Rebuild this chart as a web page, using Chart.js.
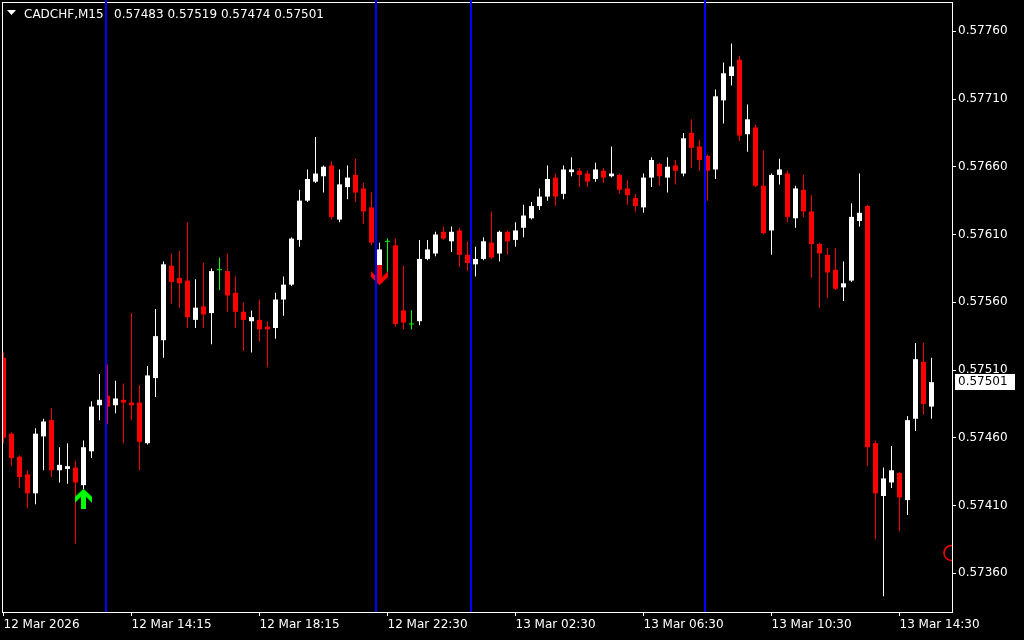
<!DOCTYPE html>
<html>
<head>
<meta charset="utf-8">
<script src="https://cdn.jsdelivr.net/npm/chart.js@4.4.0/dist/chart.umd.min.js"></script>
<style>
html, body { margin: 0; padding: 0; background: #000; overflow: hidden; }
#wrap { width: 1024px; height: 640px; }
</style>
</head>
<body>
<div id="wrap"><canvas id="myChart"></canvas></div>
<script>
// CADCHF M15, one entry per bar (index 0 = leftmost)
const opens = [0.57519,0.57463,0.57446,0.57433,0.57419,0.57461,0.57473,0.57436,0.57437,0.57438,
  0.57425,0.57450,0.57484,0.57491,0.57484,0.57488,0.57486,0.57486,0.57456,0.57504,
  0.57532,0.57587,0.57578,0.57576,0.57547,0.57557,0.57552,0.57584,0.57583,0.57567,
  0.57553,0.57546,0.57547,0.57542,0.57541,0.57562,0.57573,0.57606,0.57635,0.57649,
  0.57653,0.57661,0.57621,0.57645,0.57654,0.57644,0.57630,0.57582,0.57605,0.57602,
  0.57554,0.57544,0.57546,0.57592,0.57596,0.57612,0.57605,0.57613,0.57595,0.57588,
  0.57592,0.57604,0.57596,0.57612,0.57606,0.57615,0.57622,0.57631,0.57638,0.57652,
  0.57640,0.57656,0.57657,0.57655,0.57651,0.57657,0.57653,0.57654,0.57644,0.57637,
  0.57630,0.57652,0.57662,0.57652,0.57661,0.57655,0.57685,0.57675,0.57668,0.57658,
  0.57709,0.57727,0.57739,0.57684,0.57689,0.57646,0.57613,0.57654,0.57655,0.57622,
  0.57643,0.57627,0.57603,0.57595,0.57584,0.57571,0.57576,0.57620,0.57631,0.57456,
  0.57417,0.57427,0.57434,0.57414,0.57474,0.57516,0.57483];
const highs = [0.57523,0.57464,0.57447,0.57436,0.57467,0.57474,0.57482,0.57453,0.57456,0.57443,
  0.57458,0.57487,0.57507,0.57514,0.57502,0.57500,0.57552,0.57499,0.57513,0.57555,
  0.57590,0.57596,0.57598,0.57619,0.57577,0.57589,0.57585,0.57593,0.57596,0.57579,
  0.57560,0.57554,0.57562,0.57546,0.57567,0.57579,0.57608,0.57643,0.57658,0.57682,
  0.57661,0.57664,0.57658,0.57661,0.57666,0.57648,0.57641,0.57604,0.57607,0.57607,
  0.57587,0.57554,0.57606,0.57606,0.57612,0.57616,0.57616,0.57615,0.57605,0.57601,
  0.57608,0.57627,0.57613,0.57613,0.57619,0.57632,0.57634,0.57644,0.57661,0.57655,
  0.57661,0.57667,0.57659,0.57657,0.57663,0.57659,0.57675,0.57655,0.57650,0.57640,
  0.57655,0.57667,0.57663,0.57667,0.57665,0.57685,0.57695,0.57680,0.57669,0.57717,
  0.57737,0.57751,0.57742,0.57706,0.57691,0.57672,0.57655,0.57666,0.57657,0.57646,
  0.57654,0.57639,0.57604,0.57600,0.57600,0.57590,0.57633,0.57655,0.57632,0.57458,
  0.57438,0.57454,0.57435,0.57476,0.57530,0.57530,0.57519];
const lows = [0.57456,0.57439,0.57423,0.57408,0.57411,0.57436,0.57431,0.57427,0.57426,0.57382,
  0.57422,0.57445,0.57473,0.57470,0.57478,0.57456,0.57473,0.57436,0.57455,0.57490,
  0.57519,0.57559,0.57556,0.57541,0.57541,0.57541,0.57529,0.57569,0.57553,0.57541,
  0.57524,0.57523,0.57531,0.57512,0.57533,0.57550,0.57572,0.57601,0.57634,0.57648,
  0.57641,0.57621,0.57619,0.57636,0.57634,0.57618,0.57602,0.57579,0.57579,0.57542,
  0.57540,0.57540,0.57543,0.57591,0.57594,0.57606,0.57597,0.57586,0.57583,0.57579,
  0.57591,0.57592,0.57590,0.57595,0.57601,0.57608,0.57621,0.57628,0.57635,0.57631,
  0.57636,0.57653,0.57645,0.57645,0.57649,0.57648,0.57652,0.57640,0.57632,0.57627,
  0.57626,0.57645,0.57646,0.57641,0.57647,0.57653,0.57659,0.57657,0.57635,0.57651,
  0.57692,0.57720,0.57679,0.57671,0.57645,0.57610,0.57595,0.57647,0.57619,0.57615,
  0.57623,0.57578,0.57556,0.57563,0.57569,0.57561,0.57575,0.57616,0.57439,0.57385,
  0.57343,0.57423,0.57391,0.57403,0.57465,0.57477,0.57474];
const closes = [0.57460,0.57445,0.57431,0.57419,0.57463,0.57472,0.57436,0.57440,0.57439,0.57427,
  0.57453,0.57483,0.57488,0.57483,0.57489,0.57486,0.57484,0.57457,0.57506,0.57535,
  0.57588,0.57575,0.57574,0.57549,0.57556,0.57551,0.57583,0.57584,0.57565,0.57553,
  0.57547,0.57549,0.57540,0.57540,0.57562,0.57573,0.57607,0.57635,0.57651,0.57655,
  0.57660,0.57623,0.57647,0.57652,0.57641,0.57627,0.57604,0.57599,0.57605,0.57544,
  0.57545,0.57544,0.57592,0.57599,0.57610,0.57607,0.57612,0.57595,0.57589,0.57592,
  0.57605,0.57593,0.57612,0.57605,0.57613,0.57624,0.57631,0.57638,0.57651,0.57638,
  0.57658,0.57658,0.57654,0.57649,0.57658,0.57652,0.57655,0.57643,0.57639,0.57631,
  0.57652,0.57665,0.57653,0.57660,0.57657,0.57681,0.57674,0.57665,0.57657,0.57712,
  0.57729,0.57734,0.57683,0.57695,0.57646,0.57611,0.57654,0.57658,0.57623,0.57644,
  0.57627,0.57603,0.57596,0.57582,0.57570,0.57574,0.57623,0.57626,0.57453,0.57419,
  0.57430,0.57436,0.57416,0.57473,0.57518,0.57485,0.57501];

// time labels on every 16th bar
const xTickIdx = [0, 16, 32, 48, 64, 80, 96, 112];
const xTickLabels = ['12 Mar 2026', '12 Mar 14:15', '12 Mar 18:15', '12 Mar 22:30',
  '13 Mar 02:30', '13 Mar 06:30', '13 Mar 10:30', '13 Mar 14:30'];
const yTicks = [0.57360, 0.57410, 0.57460, 0.57510, 0.57560, 0.57610, 0.57660, 0.57710, 0.57760];

// vertical separator lines (in bar units) and signal arrows
const vLines = [12.8125, 46.5625, 58.4375, 87.6875];
const buySignals = [{x: 10, y: 0.57415}];
const sellSignals = [{x: 47, y: 0.57580}];
const stopMarks = [{x: 118.5, y: 0.57375}];

const symbolText = 'CADCHF,M15';
const lastBar = opens.length - 1;

const BULL = '#ffffff', BEAR = '#ff0000', DOJI = '#00ff00';
function barColor(i) {
  if (closes[i] > opens[i]) return BULL;
  if (closes[i] < opens[i]) return BEAR;
  return DOJI;
}

const wickData = opens.map((o, i) => ({x: i, y: [lows[i], highs[i]]}));
const bodyIdx = opens.map((o, i) => i).filter(i => opens[i] !== closes[i]);
const bodyData = bodyIdx.map(i => ({x: i, y: [Math.min(opens[i], closes[i]), Math.max(opens[i], closes[i])]}));
const dojiData = opens.map((o, i) => i).filter(i => opens[i] === closes[i]).map(i => ({x: i, y: opens[i]}));

function makeArrow(color, up) {
  const c = document.createElement('canvas');
  c.width = 17; c.height = 20;
  const g = c.getContext('2d');
  if (!up) { g.translate(0, 20); g.scale(1, -1); }
  g.fillStyle = color;
  g.beginPath();
  g.moveTo(8.5, 0);
  g.lineTo(17, 8);
  g.lineTo(17, 14);
  g.lineTo(11, 8);
  g.lineTo(11, 20);
  g.lineTo(6, 20);
  g.lineTo(6, 8);
  g.lineTo(0, 14);
  g.lineTo(0, 8);
  g.closePath();
  g.fill();
  return c;
}
const upArrow = makeArrow('#00ff00', true);
const downArrow = makeArrow('#ff0000', false);

const mtOverlay = {
  id: 'mtOverlay',
  afterDatasetsDraw(chart) {
    const ctx = chart.ctx, a = chart.chartArea, xs = chart.scales.x;
    ctx.save();
    ctx.strokeStyle = '#ffffff';
    ctx.lineWidth = 1;
    ctx.strokeRect(a.left + 0.5, a.top + 0.5, a.right - a.left, a.bottom - a.top);
    ctx.fillStyle = '#0000ff';
    vLines.forEach(v => {
      const x = Math.round(xs.getPixelForValue(v));
      ctx.fillRect(x - 1, 0, 2, a.bottom);
    });
    ctx.restore();
  },
  afterDraw(chart) {
    const ctx = chart.ctx, ys = chart.scales.y, a = chart.chartArea;
    ctx.save();
    // header
    ctx.fillStyle = '#ffffff';
    ctx.beginPath();
    ctx.moveTo(7, 10); ctx.lineTo(16, 10); ctx.lineTo(11.5, 15); ctx.closePath();
    ctx.fill();
    ctx.font = '12px "DejaVu Sans"';
    ctx.textBaseline = 'alphabetic';
    ctx.fillText(symbolText, 24, 18);
    const vals = [opens[lastBar], highs[lastBar], lows[lastBar], closes[lastBar]].map(v => v.toFixed(5)).join(' ');
    ctx.fillText(vals, 114, 18);
    // current price label
    const y = Math.round(ys.getPixelForValue(closes[lastBar]));
    ctx.fillStyle = '#ffffff';
    ctx.fillRect(a.right + 3, y - 8, 60, 16);
    ctx.fillStyle = '#000000';
    ctx.textBaseline = 'middle';
    ctx.fillText(closes[lastBar].toFixed(5), a.right + 6, y);
    ctx.restore();
  }
};

Chart.defaults.font.family = '"DejaVu Sans"';
Chart.defaults.font.size = 12;
Chart.defaults.color = '#ffffff';

const ctx = document.getElementById('myChart').getContext('2d');
const myChart = new Chart(ctx, {
  type: 'bar',
  data: {
    datasets: [
      {
        label: 'wick',
        data: wickData,
        backgroundColor: wickData.map((d, i) => barColor(i)),
        barThickness: 1,
        borderWidth: 0,
        inflateAmount: 0,
        grouped: false,
        order: 3
      },
      {
        label: 'body',
        data: bodyData,
        backgroundColor: bodyIdx.map(i => barColor(i)),
        barThickness: 5,
        borderWidth: 0,
        inflateAmount: 0,
        grouped: false,
        order: 2
      },
      {
        type: 'scatter',
        label: 'doji',
        data: dojiData,
        pointStyle: 'line',
        radius: 2.5,
        borderColor: DOJI,
        borderWidth: 1,
        order: 1
      },
      {
        type: 'scatter',
        label: 'buy',
        data: buySignals,
        pointStyle: upArrow,
        radius: 5,
        order: 0
      },
      {
        type: 'scatter',
        label: 'sell',
        data: sellSignals,
        pointStyle: downArrow,
        radius: 5,
        order: 0
      },
      {
        type: 'scatter',
        label: 'stop',
        data: stopMarks,
        pointStyle: 'circle',
        radius: 7.5,
        borderColor: '#ff0000',
        backgroundColor: 'rgba(0,0,0,0)',
        borderWidth: 1.5,
        clip: 0,
        order: 0
      }
    ]
  },
  options: {
    responsive: true,
    maintainAspectRatio: false,
    animation: false,
    events: [],
    layout: { autoPadding: false, padding: { left: 2, top: 2, right: 0, bottom: 0 } },
    plugins: {
      legend: { display: false },
      tooltip: { enabled: false }
    },
    scales: {
      x: {
        type: 'linear',
        min: -0.1875,
        max: 118.5625,
        offset: false,
        grid: { display: true, drawOnChartArea: false, offset: false, color: '#ffffff', tickLength: 4 },
        border: { display: true, color: '#ffffff' },
        ticks: {
          align: 'start',
          autoSkip: false,
          maxRotation: 0,
          padding: 2,
          color: '#ffffff',
          callback: (v) => xTickLabels[xTickIdx.indexOf(v)]
        },
        afterBuildTicks: (axis) => { axis.ticks = xTickIdx.map(v => ({value: v})); },
        afterFit: (axis) => { axis.height = 28; axis.paddingLeft = 0; axis.paddingRight = 0; }
      },
      y: {
        position: 'right',
        min: 0.573314,
        max: 0.577816,
        grid: { display: true, drawOnChartArea: false, color: '#ffffff', tickLength: 4 },
        border: { display: true, color: '#ffffff' },
        ticks: {
          padding: 2,
          color: '#ffffff',
          callback: (v) => v.toFixed(5)
        },
        afterBuildTicks: (axis) => { axis.ticks = yTicks.map(v => ({value: v})); },
        afterFit: (axis) => { axis.width = 72; axis.paddingTop = 0; axis.paddingBottom = 0; }
      }
    }
  },
  plugins: [mtOverlay]
});
</script>
</body>
</html>
